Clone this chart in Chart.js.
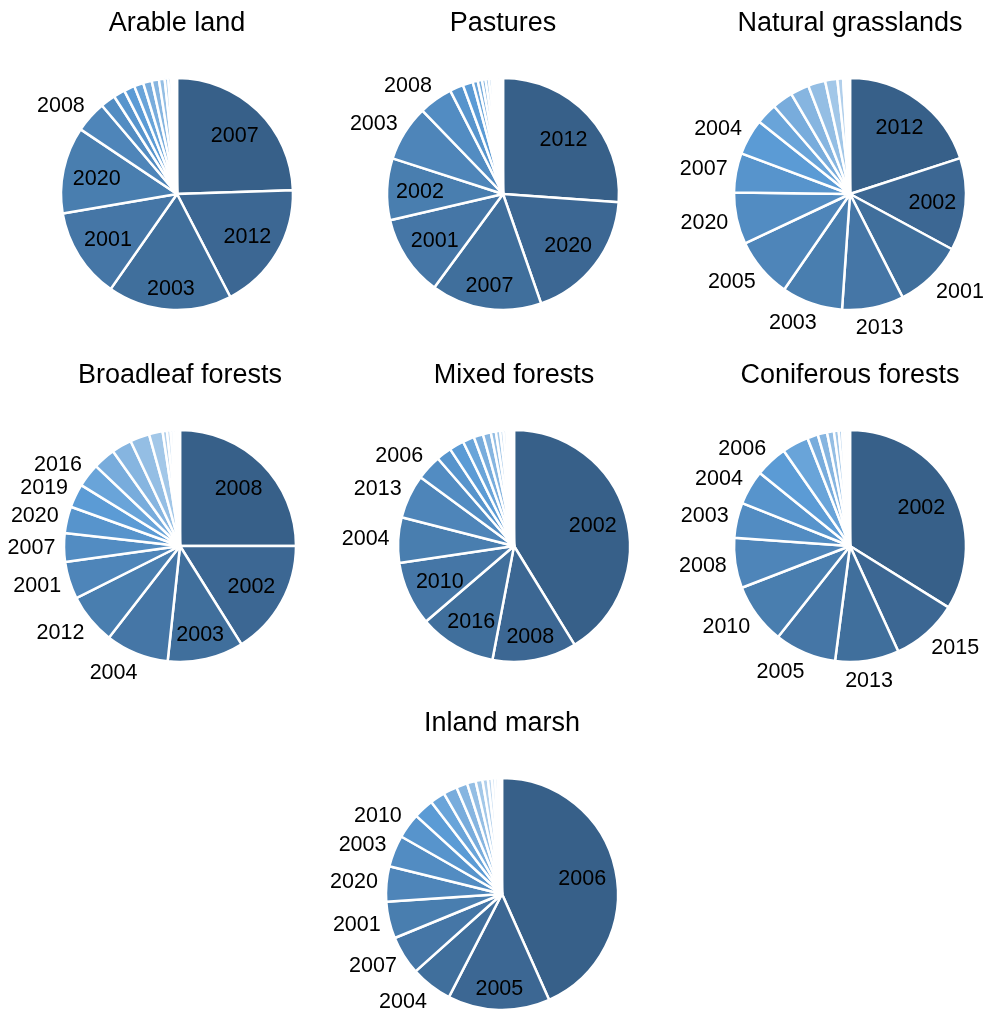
<!DOCTYPE html>
<html>
<head>
<meta charset="utf-8">
<script src="https://cdn.jsdelivr.net/npm/chart.js@4.4.1/dist/chart.umd.min.js"></script>
<style>
html,body{margin:0;padding:0;background:#fff;overflow:hidden;width:985px;height:1012px;}
.box{position:absolute;width:400px;height:350px;}
.box canvas{display:block;}
</style>
</head>
<body>
<div class="box" style="left:-23px;top:0px"><canvas id="c0" width="400" height="350"></canvas></div>
<div class="box" style="left:303px;top:0px"><canvas id="c1" width="400" height="350"></canvas></div>
<div class="box" style="left:649.5px;top:0px"><canvas id="c2" width="400" height="350"></canvas></div>
<div class="box" style="left:-20.5px;top:352px"><canvas id="c3" width="400" height="350"></canvas></div>
<div class="box" style="left:313.5px;top:352px"><canvas id="c4" width="400" height="350"></canvas></div>
<div class="box" style="left:649.5px;top:352px"><canvas id="c5" width="400" height="350"></canvas></div>
<div class="box" style="left:302px;top:700px"><canvas id="c6" width="400" height="350"></canvas></div>
<script>
// ---- data (shares, %) : slices ordered largest first, clockwise from 12 o'clock ----
const titles = ["Arable land", "Pastures", "Natural grasslands", "Broadleaf forests", "Mixed forests", "Coniferous forests", "Inland marsh"];

const arableYears  = [2007, 2012, 2003, 2001, 2020, 2008, 2002, 2004, 2005, 2006, 2009, 2010, 2011, 2013, 2014, 2015, 2016, 2017, 2018, 2019];
const arableValues = [24.5, 17.9, 17.3, 12.6, 12.1, 4.4, 2.1, 1.6, 1.5, 1.3, 1.2, 1.0, 0.8, 0.5, 0.4, 0.3, 0.2, 0.15, 0.1, 0.05];

const pastureYears  = [2012, 2020, 2007, 2001, 2002, 2003, 2008, 2004, 2005, 2006, 2009, 2010, 2011, 2013, 2014, 2015, 2016, 2017, 2018, 2019];
const pastureValues = [26.1, 18.5, 15.4, 11.25, 8.6, 7.8, 4.7, 1.9, 1.4, 0.7, 0.6, 0.5, 0.45, 0.4, 0.35, 0.3, 0.3, 0.25, 0.2, 0.15];

const grasslandYears  = [2012, 2002, 2001, 2013, 2003, 2005, 2020, 2007, 2004, 2006, 2008, 2009, 2010, 2011, 2014, 2015, 2016, 2017, 2018, 2019];
const grasslandValues = [20.0, 12.9, 9.6, 8.6, 8.5, 8.4, 7.2, 5.5, 5.0, 2.95, 2.9, 2.6, 2.4, 1.7, 0.8, 0.3, 0.25, 0.2, 0.12, 0.08];

const broadleafYears  = [2008, 2002, 2003, 2004, 2012, 2001, 2007, 2020, 2019, 2016, 2005, 2006, 2009, 2010, 2011, 2013, 2014, 2015, 2017, 2018];
const broadleafValues = [25.0, 16.1, 10.6, 8.8, 7.1, 5.2, 4.0, 3.7, 3.3, 3.3, 3.1, 2.8, 2.7, 1.9, 0.6, 0.5, 0.4, 0.35, 0.3, 0.25];

const mixedYears  = [2002, 2008, 2016, 2010, 2004, 2013, 2006, 2001, 2003, 2005, 2007, 2009, 2011, 2012, 2014, 2015, 2017, 2018, 2019, 2020];
const mixedValues = [41.1, 11.7, 10.7, 8.9, 6.3, 6.1, 3.5, 2.1, 2.05, 1.6, 1.3, 1.1, 0.7, 0.6, 0.45, 0.4, 0.3, 0.3, 0.25, 0.2];

const coniferYears  = [2002, 2015, 2013, 2005, 2010, 2008, 2003, 2004, 2006, 2001, 2007, 2009, 2011, 2012, 2014, 2016, 2017, 2018, 2019, 2020];
const coniferValues = [33.9, 9.3, 8.9, 8.6, 8.5, 7.0, 4.9, 4.8, 4.5, 3.7, 1.5, 1.3, 0.95, 0.67, 0.47, 0.36, 0.33, 0.2, 0.12, 0.08];

const marshYears  = [2006, 2005, 2004, 2007, 2001, 2020, 2003, 2010, 2002, 2008, 2009, 2011, 2012, 2013, 2014, 2015, 2016, 2017, 2018, 2019];
const marshValues = [43.2, 14.2, 5.8, 5.4, 5.1, 4.9, 4.4, 3.5, 2.8, 2.1, 1.9, 1.55, 1.2, 0.95, 0.75, 0.55, 0.45, 0.4, 0.3, 0.25];

// how many of the largest slices get a label inside / outside
const insideLabelCounts  = [5, 5, 2, 3, 4, 1, 2];
const outsideLabelCounts = [1, 2, 7, 7, 3, 8, 6];

const allYears  = [arableYears, pastureYears, grasslandYears, broadleafYears, mixedYears, coniferYears, marshYears];
const allValues = [arableValues, pastureValues, grasslandValues, broadleafValues, mixedValues, coniferValues, marshValues];

// ---- styling ----
const FONT = '"Liberation Sans", Arial, Helvetica, sans-serif';
const LABEL_SIZE = 21.5;

function sliceColor(i){
  const stops = [[0,[55,96,137]],[8,[91,155,213]],[19,[248,251,254]]];
  for (let s = 0; s < stops.length - 1; s++){
    const [i0,c0] = stops[s], [i1,c1] = stops[s+1];
    if (i <= i1){
      const f = (i - i0)/(i1 - i0);
      const c = c0.map((v,k)=>Math.round(v + (c1[k]-v)*f));
      return `rgb(${c[0]},${c[1]},${c[2]})`;
    }
  }
  return 'rgb(248,251,254)';
}

const labelPlugin = {
  id: 'sliceLabels',
  afterDatasetsDraw(chart, args, opts){
    const ctx = chart.ctx;
    const meta = chart.getDatasetMeta(0);
    const labels = chart.data.labels;
    ctx.save();
    ctx.font = `${LABEL_SIZE}px ${FONT}`;
    ctx.fillStyle = '#000';
    ctx.textAlign = 'center';
    ctx.textBaseline = 'middle';
    meta.data.forEach((arc, i) => {
      let mode = null;
      if (i < opts.inside) mode = 'in';
      else if (i < opts.inside + opts.outside) mode = 'out';
      if (!mode) return;
      const p = arc.getProps(['x','y','startAngle','endAngle','outerRadius'], true);
      const mid = (p.startAngle + p.endAngle)/2;
      const ux = Math.cos(mid), uy = Math.sin(mid);
      const w = ctx.measureText(labels[i]).width/2, h = 11;
      const R = p.outerRadius;
      let x, y;
      if (mode === 'in'){
        const f = (t)=>Math.hypot(Math.abs(ux*t)+w, Math.abs(uy*t)+h) - 0.93*R;
        let lo = 0, hi = R;
        for (let k = 0; k < 60; k++){ const m = (lo+hi)/2; if (f(m) < 0) lo = m; else hi = m; }
        const t = (lo+hi)/2;
        x = p.x + ux*t; y = p.y + uy*t + 2;
      } else {
        const a = 1.1*R;
        const s = Math.min(Math.max((Math.abs(ux) - 0.15)/0.25, 0), 1);
        x = p.x + ux*a + Math.sign(ux)*(w - 3)*s;
        y = p.y + uy*a + (uy > 0 ? uy*9 : uy*5);
      }
      ctx.fillText(labels[i], x, y);
    });
    ctx.restore();
  }
};

titles.forEach((title, n) => {
  const years = allYears[n], values = allValues[n];
  new Chart(document.getElementById('c'+n), {
    type: 'pie',
    data: {
      labels: years.map(String),
      datasets: [{
        data: values,
        backgroundColor: values.map((_, i) => sliceColor(i)),
        borderColor: '#ffffff',
        borderWidth: 2.5
      }]
    },
    options: {
      responsive: false,
      animation: false,
      devicePixelRatio: 1,
      radius: 116,
      layout: { padding: { top: 0, bottom: 40, left: 0, right: 0 } },
      plugins: {
        legend: { display: false },
        tooltip: { enabled: false },
        title: {
          display: true, text: title, color: '#000',
          font: { size: 27, family: FONT, weight: 'normal', lineHeight: 1.2 },
          padding: { top: 7.8, bottom: 37.8 }
        },
        sliceLabels: { inside: insideLabelCounts[n], outside: outsideLabelCounts[n] }
      }
    },
    plugins: [labelPlugin]
  });
});
</script>
</body>
</html>
